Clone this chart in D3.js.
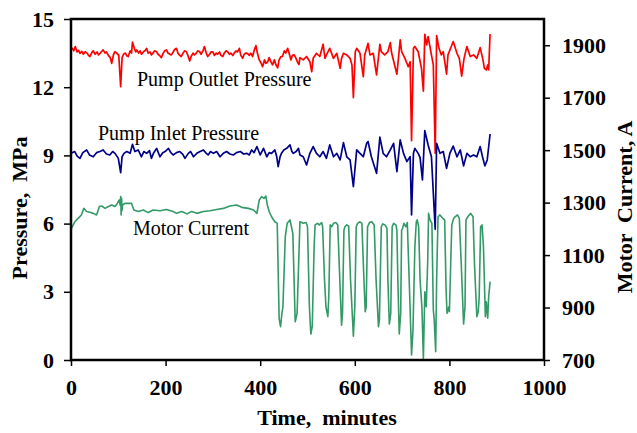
<!DOCTYPE html>
<html>
<head>
<meta charset="utf-8">
<script src="https://cdn.jsdelivr.net/npm/d3@7"></script>
<style>
  body { margin: 0; background: #fff; }
  svg { display: block; }
  text { font-family: "Liberation Serif", "Times New Roman", serif; }
</style>
</head>
<body>
<svg id="chart"></svg>
<script>
// time (minutes), value
const outletPressure = [
  [0,13.65],[3,13.71],[6,13.6],[9,13.79],[13,13.55],[16,13.62],[19,13.49],[23,13.58],[26,13.45],[30,13.56],
  [34,13.5],[37,13.4],[40,13.35],[44,13.52],[47,13.6],[51,13.45],[55,13.55],[58,13.42],[62,13.5],[65,13.58],
  [68,13.64],[72,13.5],[75,13.55],[79,13.4],[83,13.3],[86,13.05],[90,13.45],[93,13.56],[97,13.5],[101,13.4],
  [105,12.02],[108,13.3],[111,13.45],[115,13.5],[118,13.38],[121,13.35],[125,13.6],[128,13.5],[130,13.98],[134,13.7],
  [137,13.55],[139,13.64],[143,13.5],[146,13.6],[149,13.45],[153,13.55],[157,13.62],[160,13.71],[163,13.5],[167,13.55],
  [170,13.42],[174,13.52],[177,13.6],[181,13.56],[184,13.45],[188,13.38],[191,13.3],[195,13.5],[198,13.6],[202,13.64],
  [205,13.5],[209,13.45],[212,13.42],[216,13.55],[219,13.66],[223,13.71],[226,13.5],[230,13.4],[233,13.35],[237,13.5],
  [240,13.6],[244,13.56],[247,13.4],[251,13.15],[254,13.35],[258,13.5],[261,13.42],[265,13.5],[268,13.6],[272,13.56],
  [275,13.45],[279,13.6],[282,13.79],[286,13.5],[289,13.35],[293,13.45],[296,13.55],[300,13.56],[303,13.4],[307,13.5],
  [310,13.45],[314,13.55],[317,13.4],[321,13.35],[324,13.5],[328,13.6],[331,13.56],[335,13.45],[338,13.5],[342,13.39],
  [345,13.5],[349,13.6],[352,13.55],[356,13.71],[359,13.4],[363,13.27],[366,13.45],[370,13.5],[373,13.49],[377,13.4],
  [380,13.5],[384,13.35],[387,13.6],[391,13.83],[394,13.5],[398,13.2],[401,13.1],[405,12.9],[409,13.2],[412,13.05],
  [416,13.12],[419,13.3],[423,13.1],[426,12.98],[430,13.2],[433,13.0],[437,12.85],[440,13.2],[444,13.35],[447,13.35],
  [451,13.6],[454,13.5],[458,13.71],[461,13.5],[465,13.2],[468,13.4],[472,13.42],[475,13.3],[479,13.1],[482,13.0],
  [484,13.3],[491,13.2],[498,13.35],[505,13.12],[509,12.68],[512,13.27],[519,13.49],[526,13.35],[533,13.89],[537,13.27],
  [540,13.42],[547,13.71],[555,13.27],[562,13.49],[569,12.83],[572,13.27],[576,13.49],[583,13.42],[590,13.27],[594,12.98],
  [597,11.54],[601,13.56],[604,13.71],[611,13.49],[618,12.46],[621,13.42],[628,13.93],[632,13.42],[639,13.49],[646,12.54],
  [653,13.89],[656,13.56],[663,13.42],[670,13.56],[675,13.96],[678,13.49],[689,12.57],[696,14.08],[699,13.56],[706,13.27],
  [713,12.9],[717,13.12],[720,9.65],[724,13.71],[727,13.79],[734,13.56],[741,12.83],[745,11.83],[748,14.33],[752,13.86],
  [755,14.23],[762,13.42],[766,12.98],[770,9.1],[773,14.27],[778,13.71],[783,13.42],[787,13.56],[794,12.57],[797,13.42],
  [804,13.79],[808,14.01],[816,13.49],[821,13.27],[826,12.49],[831,13.27],[837,13.79],[844,13.35],[851,13.42],[858,13.27],
  [865,13.74],[871,13.2],[874,12.83],[878,12.76],[881,12.98],[883,12.76],[886,14.34]
];

const inletPressure = [
  [0,9.09],[8,9.17],[13,8.97],[19,8.87],[25,9.12],[33,9.24],[39,9.02],[47,8.94],[54,9.12],[61,9.17],
  [68,9.24],[75,9.06],[82,9.02],[88,9.17],[93,9.09],[100,8.87],[105,8.24],[108,8.94],[112,9.09],[118,9.17],
  [125,9.09],[130,9.49],[135,9.17],[142,9.24],[149,8.94],[154,9.17],[160,9.09],[166,9.21],[170,8.87],[175,9.12],
  [181,9.31],[188,8.94],[194,9.12],[199,9.17],[206,9.31],[211,9.12],[216,9.02],[223,9.12],[230,9.17],[236,9.06],
  [241,8.87],[248,9.09],[253,9.17],[259,8.94],[266,9.09],[273,9.17],[280,9.24],[286,9.09],[290,9.02],[295,9.17],
  [301,9.09],[308,9.17],[315,8.94],[322,9.09],[329,9.17],[336,9.06],[343,9.02],[350,9.12],[358,9.17],[365,9.06],
  [372,9.09],[377,9.02],[382,9.24],[387,9.12],[393,9.39],[400,9.02],[407,9.31],[414,8.94],[419,9.12],[424,9.09],
  [431,9.24],[435,8.94],[438,8.51],[442,8.94],[445,9.09],[450,9.24],[456,9.31],[463,9.46],[467,9.17],[470,9.09],
  [476,9.17],[481,9.31],[484,9.02],[491,8.94],[498,8.58],[505,9.09],[512,9.39],[519,9.09],[526,8.94],[533,9.17],
  [540,8.87],[547,9.46],[555,8.94],[562,9.09],[569,8.8],[576,9.56],[583,8.94],[590,8.8],[597,7.63],[604,9.24],
  [611,9.09],[618,8.94],[625,9.53],[628,9.61],[635,8.94],[646,8.21],[653,9.8],[660,9.09],[667,8.94],[675,9.24],
  [682,9.53],[689,8.29],[696,9.68],[703,9.09],[710,8.73],[717,8.94],[720,6.38],[724,9.09],[727,9.31],[734,9.09],
  [738,8.9],[743,7.92],[748,10.09],[755,9.46],[762,8.94],[770,5.75],[773,9.53],[780,9.09],[787,9.17],[794,8.43],
  [801,9.09],[808,9.41],[816,8.94],[823,9.24],[830,8.54],[837,9.09],[844,8.94],[851,9.02],[858,8.94],[865,9.39],
  [870,8.94],[875,8.54],[880,8.8],[886,9.94]
];

const motorCurrent = [
  [0,1190],[1,1202],[8,1227],[15,1240],[22,1253],[27,1278],[33,1266],[40,1263],[47,1259],[54,1253],
  [60,1285],[65,1287],[72,1278],[79,1285],[86,1291],[93,1285],[98,1297],[102,1310],[104,1291],[105,1323],
  [106,1253],[107,1316],[108,1270],[109,1291],[114,1297],[121,1297],[128,1297],[133,1272],[142,1266],[153,1272],
  [163,1262],[174,1272],[188,1269],[202,1274],[216,1266],[223,1259],[234,1266],[245,1257],[255,1266],[266,1259],
  [280,1266],[294,1269],[308,1274],[322,1278],[336,1287],[350,1291],[361,1282],[375,1278],[386,1272],[393,1259],
  [398,1310],[403,1323],[408,1316],[412,1325],[415,1291],[419,1266],[424,1246],[431,1227],[436,1221],[440,859],
  [443,827],[446,880],[448,903],[453,1170],[457,1221],[463,1234],[469,1183],[474,846],[478,878],[484,1227],
  [491,1221],[497,1224],[500,1208],[504,903],[507,799],[510,827],[514,1132],[516,1215],[521,1221],[525,1215],
  [530,1224],[532,1208],[536,1005],[539,903],[543,865],[545,941],[548,1215],[551,1208],[555,1221],[560,1224],
  [564,1215],[567,1068],[572,833],[574,878],[577,1195],[579,1208],[583,1215],[587,1211],[591,1005],[597,791],
  [600,903],[603,1208],[606,1221],[611,1227],[615,1221],[618,1068],[622,884],[624,903],[627,1208],[631,1224],
  [636,1227],[641,1215],[645,1005],[650,827],[652,852],[656,1208],[659,1219],[664,1215],[668,1202],[670,1005],
  [673,837],[676,878],[679,1208],[682,1221],[687,1215],[689,1195],[691,1005],[694,799],[697,878],[699,1195],
  [701,1202],[704,1221],[708,1208],[711,1224],[715,1005],[720,719],[723,814],[727,1132],[730,1227],[732,1234],
  [735,1208],[738,1005],[742,897],[745,706],[748,960],[751,903],[754,1068],[756,1259],[759,1234],[763,1221],
  [766,891],[768,852],[771,732],[773,1005],[776,1246],[780,1253],[786,1240],[790,1234],[793,967],[795,878],
  [799,903],[800,884],[805,1215],[809,1240],[812,1246],[817,1253],[821,1240],[825,1068],[830,837],[833,903],
  [835,1234],[840,1249],[845,1259],[850,1246],[853,1068],[858,865],[861,884],[863,941],[866,1208],[869,1215],
  [872,1132],[876,865],[878,922],[881,859],[883,941],[886,999]
];

const timeTicks = [0, 200, 400, 600, 800, 1000];
const pressureTicks = [0, 3, 6, 9, 12, 15];
const currentTicks = [700, 900, 1100, 1300, 1500, 1700, 1900];

const serif = '"Liberation Serif", "Times New Roman", serif';

const svg = d3.select('#chart')
  .attr('width', 637)
  .attr('height', 433);

const plot = { left: 71, right: 544, top: 19, bottom: 360 };

const x = d3.scaleLinear().domain([0, 1000]).range([plot.left, plot.right]);
const yP = d3.scaleLinear().domain([0, 15]).range([plot.bottom, plot.top]);
const yA = d3.scaleLinear().domain([700, 2000]).range([plot.bottom, plot.top]);

// series
const pLine = d3.line().x(d => x(d[0])).y(d => yP(d[1]));
const aLine = d3.line().x(d => x(d[0])).y(d => yA(d[1]));

svg.append('path').datum(motorCurrent)
  .attr('d', aLine).attr('fill', 'none')
  .attr('stroke', '#339966').attr('stroke-width', 1.6).attr('stroke-linejoin', 'round');

svg.append('path').datum(outletPressure)
  .attr('d', pLine).attr('fill', 'none')
  .attr('stroke', '#ff0000').attr('stroke-width', 1.7).attr('stroke-linejoin', 'round');

svg.append('path').datum(inletPressure)
  .attr('d', pLine).attr('fill', 'none')
  .attr('stroke', '#000088').attr('stroke-width', 1.7).attr('stroke-linejoin', 'round');

// axes
function styleAxis(g) {
  g.select('.domain').remove();
  g.selectAll('.tick line').attr('stroke', '#000').attr('stroke-width', 1.5);
  g.selectAll('.tick text')
    .attr('fill', '#000')
    .attr('font-family', serif)
    .attr('font-size', 22)
    .attr('font-weight', 'bold');
}

svg.append('g')
  .attr('transform', `translate(0,${plot.bottom})`)
  .call(d3.axisBottom(x).tickValues(timeTicks).tickSize(6).tickPadding(13).tickFormat(d3.format('d')))
  .call(styleAxis);

svg.append('g')
  .attr('transform', `translate(${plot.left},0)`)
  .call(d3.axisLeft(yP).tickValues(pressureTicks).tickSize(7).tickPadding(10).tickFormat(d3.format('d')))
  .call(styleAxis);

svg.append('g')
  .attr('transform', `translate(${plot.right},0)`)
  .call(d3.axisRight(yA).tickValues(currentTicks).tickSize(6).tickPadding(12).tickFormat(d3.format('d')))
  .call(styleAxis);

// frame
svg.append('rect')
  .attr('x', plot.left).attr('y', plot.top)
  .attr('width', plot.right - plot.left).attr('height', plot.bottom - plot.top)
  .attr('fill', 'none').attr('stroke', '#000').attr('stroke-width', 2.5);

// axis titles
function title(sel) {
  sel.attr('text-anchor', 'middle')
    .attr('font-family', serif)
    .attr('font-size', 22)
    .attr('font-weight', 'bold')
    .style('white-space', 'pre');
}

svg.append('text')
  .attr('x', 327).attr('y', 425)
  .call(title)
  .text('Time,  minutes');

svg.append('text')
  .attr('transform', 'translate(27,208) rotate(-90)')
  .call(title)
  .text('Pressure,  MPa');

svg.append('text')
  .attr('transform', 'translate(632,207) rotate(-90)')
  .call(title)
  .text('Motor  Current, A');

// series labels
const labels = [
  { text: 'Pump Outlet Pressure', x: 137, y: 86 },
  { text: 'Pump Inlet Pressure', x: 98, y: 140 },
  { text: 'Motor Current', x: 133, y: 235 }
];
svg.selectAll('.series-label')
  .data(labels)
  .enter()
  .append('text')
  .attr('class', 'series-label')
  .attr('x', d => d.x)
  .attr('y', d => d.y)
  .attr('font-family', serif)
  .attr('font-size', 20)
  .attr('fill', '#000')
  .text(d => d.text);
</script>
</body>
</html>
